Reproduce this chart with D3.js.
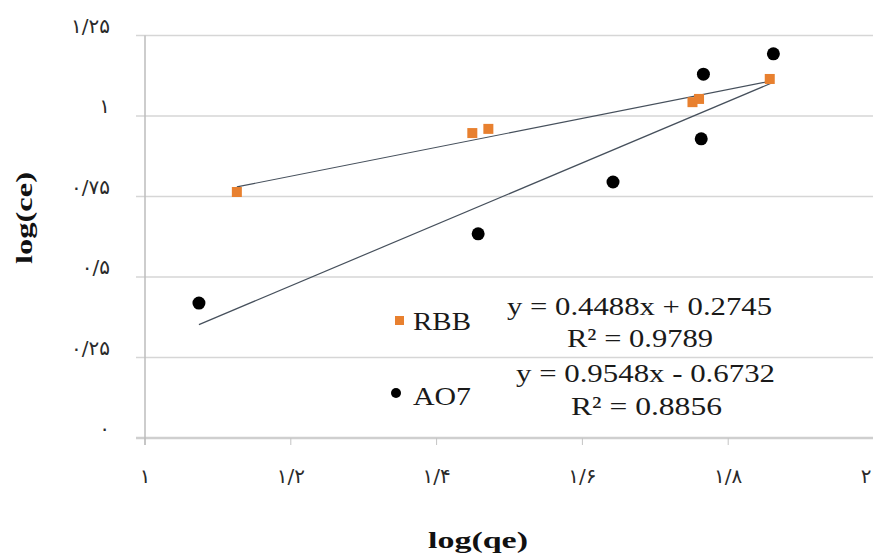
<!DOCTYPE html>
<html>
<head>
<meta charset="utf-8">
<script src="https://cdn.jsdelivr.net/npm/d3@7/dist/d3.min.js"></script>
<style>
html,body{margin:0;padding:0;background:#fff;overflow:hidden;}
svg{display:block;}
</style>
</head>
<body>
<svg id="chart" width="873" height="558"></svg>
<script>
// ---- data ----
const rbbX = [1.126, 1.449, 1.471, 1.751, 1.760, 1.857];
const rbbY = [0.764, 0.947, 0.960, 1.043, 1.053, 1.115];
const ao7X = [1.074, 1.457, 1.642, 1.763, 1.766, 1.862];
const ao7Y = [0.419, 0.634, 0.795, 0.929, 1.130, 1.193];
const seriesNames = ["RBB", "AO7"];
const slopes = [0.4488, 0.9548];
const intercepts = [0.2745, -0.6732];
const eqLabels = ["y = 0.4488x + 0.2745", "y = 0.9548x - 0.6732"];
const r2Labels = ["R\u00B2 = 0.9789", "R\u00B2 = 0.8856"];
const xTicks = [1, 1.2, 1.4, 1.6, 1.8, 2];
const xTickLabels = ["۱", "۱/۲", "۱/۴", "۱/۶", "۱/۸", "۲"];
const yTicks = [0, 0.25, 0.5, 0.75, 1, 1.25];
const yTickLabels = ["۰", "۰/۲۵", "۰/۵", "۰/۷۵", "۱", "۱/۲۵"];
const xTitle = "log(qe)";
const yTitle = "log(ce)";

// ---- layout ----
const svg = d3.select("#chart");
const x = d3.scaleLinear().domain([1, 2]).range([145, 874]);
const y = d3.scaleLinear().domain([0, 1.25]).range([438, 35.5]);
const orange = "#E8802F";

// gridlines
svg.append("g").selectAll("line").data(yTicks.filter(d => d > 0)).join("line")
  .attr("x1", 136).attr("x2", 874)
  .attr("y1", d => y(d)).attr("y2", d => y(d))
  .attr("stroke", "#d6d6d6").attr("stroke-width", 1.6);

// x axis line
svg.append("line").attr("x1", 136).attr("x2", 874)
  .attr("y1", y(0)).attr("y2", y(0))
  .attr("stroke", "#cfcfcf").attr("stroke-width", 2.5);

// x tick marks
svg.append("g").selectAll("line").data(xTicks).join("line")
  .attr("x1", d => x(d)).attr("x2", d => x(d))
  .attr("y1", y(0)).attr("y2", y(0) + 7)
  .attr("stroke", "#c4c4c4").attr("stroke-width", 1);

// y axis line
svg.append("line").attr("x1", x(1)).attr("x2", x(1))
  .attr("y1", y(1.25)).attr("y2", y(0) + 7)
  .attr("stroke", "#bdbdbd").attr("stroke-width", 1.5);

// y tick labels
svg.append("g").selectAll("text").data(yTicks).join("text")
  .attr("x", 110).attr("y", d => y(d) - 3)
  .attr("text-anchor", "end")
  .attr("font-family", "DejaVu Sans")
  .attr("font-size", 20)
  .attr("fill", "#2a2a2a")
  .text((d, i) => yTickLabels[i]);

// x tick labels
svg.append("g").selectAll("text").data(xTicks).join("text")
  .attr("x", d => Math.min(x(d), 866)).attr("y", 483)
  .attr("text-anchor", "middle")
  .attr("font-family", "DejaVu Sans")
  .attr("font-size", 20)
  .attr("fill", "#2a2a2a")
  .text((d, i) => xTickLabels[i]);

// axis titles
svg.append("text").attr("x", 478).attr("y", 548)
  .attr("text-anchor", "middle")
  .attr("font-family", "Liberation Serif").attr("font-weight", "bold")
  .attr("font-size", 23).attr("fill", "#111")
  .attr("textLength", 100).attr("lengthAdjust", "spacingAndGlyphs")
  .text(xTitle);

svg.append("text")
  .attr("transform", "translate(32,218) rotate(-90)")
  .attr("text-anchor", "middle")
  .attr("font-family", "Liberation Serif").attr("font-weight", "bold")
  .attr("font-size", 24).attr("fill", "#111")
  .attr("textLength", 92).attr("lengthAdjust", "spacingAndGlyphs")
  .text(yTitle);

// trendlines
const allX = [rbbX, ao7X];
allX.forEach((xs, i) => {
  const x0 = d3.min(xs), x1 = d3.max(xs);
  svg.append("line")
    .attr("x1", x(x0)).attr("y1", y(slopes[i] * x0 + intercepts[i]))
    .attr("x2", x(x1)).attr("y2", y(slopes[i] * x1 + intercepts[i]))
    .attr("stroke", "#46505c").attr("stroke-width", 1.2);
});

// markers
svg.append("g").selectAll("rect").data(rbbX.map((d, i) => [d, rbbY[i]])).join("rect")
  .attr("x", d => x(d[0]) - 5).attr("y", d => y(d[1]) - 5)
  .attr("width", 10).attr("height", 10)
  .attr("fill", orange);

svg.append("g").selectAll("circle").data(ao7X.map((d, i) => [d, ao7Y[i]])).join("circle")
  .attr("cx", d => x(d[0])).attr("cy", d => y(d[1]))
  .attr("r", 6.5).attr("fill", "#000");

// legend
svg.append("rect").attr("x", 395).attr("y", 316).attr("width", 9).attr("height", 9).attr("fill", orange);
svg.append("circle").attr("cx", 396).attr("cy", 393).attr("r", 5).attr("fill", "#000");
const legY = [330, 405];
seriesNames.forEach((n, i) => {
  svg.append("text").attr("x", 413).attr("y", legY[i])
    .attr("font-family", "Liberation Serif").attr("font-size", 26).attr("fill", "#1a1a1a")
    .attr("textLength", 58).attr("lengthAdjust", "spacingAndGlyphs")
    .text(n);
});

// equations
const eqPos = [[507, 315, 265], [516, 382, 259]];
const r2Pos = [[567, 347, 146], [571, 415, 151]];
eqLabels.forEach((t, i) => {
  svg.append("text").attr("x", eqPos[i][0]).attr("y", eqPos[i][1])
    .attr("font-family", "Liberation Serif").attr("font-size", 26).attr("fill", "#1a1a1a")
    .attr("textLength", eqPos[i][2]).attr("lengthAdjust", "spacingAndGlyphs")
    .text(t);
  svg.append("text").attr("x", r2Pos[i][0]).attr("y", r2Pos[i][1])
    .attr("font-family", "Liberation Serif").attr("font-size", 26).attr("fill", "#1a1a1a")
    .attr("textLength", r2Pos[i][2]).attr("lengthAdjust", "spacingAndGlyphs")
    .text(r2Labels[i]);
});
</script>
</body>
</html>
